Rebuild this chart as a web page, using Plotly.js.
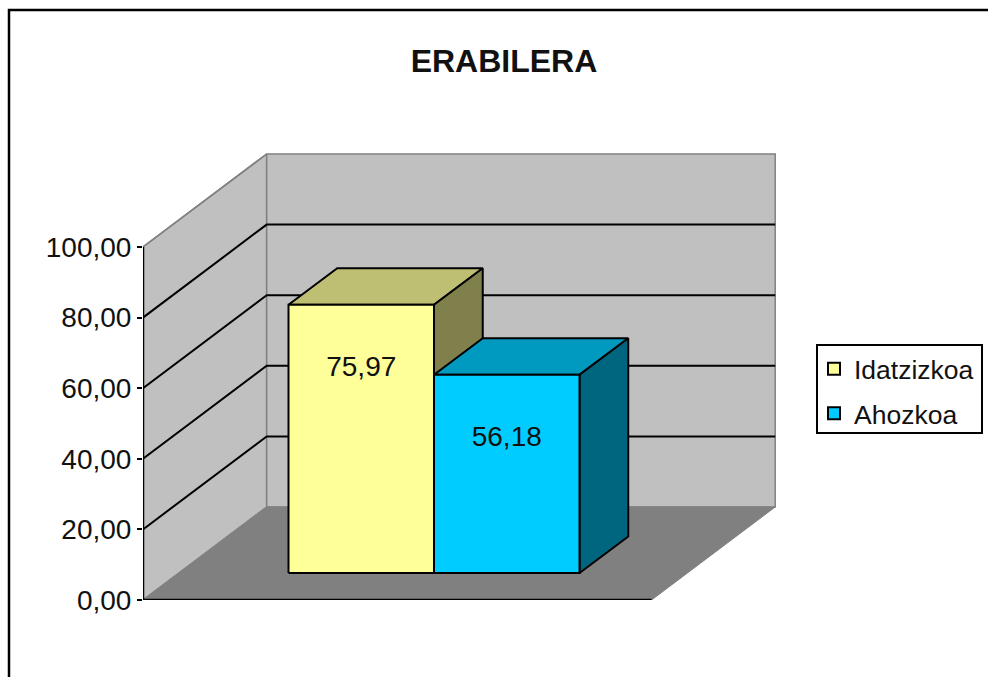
<!DOCTYPE html>
<html>
<head>
<meta charset="utf-8">
<script src="https://cdn.plot.ly/plotly-3.0.1.min.js"></script>
<style>html,body{margin:0;padding:0;background:#fff;overflow:hidden}</style>
</head>
<body>
<div id="chart" style="width:988px;height:677px"></div>
<script>
const seriesNames = ["Idatzizkoa", "Ahozkoa"];
const seriesValues = [75.97, 56.18];
const tickValues = [0, 20, 40, 60, 80, 100];
const frontColors = ["#FFFF99", "#00CCFF"];
const topColors = ["#BFBF73", "#0099BF"];
const sideColors = ["#80804D", "#006680"];
const barStarts = [1, 2];

// oblique projection of the box, in axis units
const floorWidth = 3.495, wallX = 0.85, wallY = 26.35;
const barBase = 7.65, barDepthX = 0.335, barDepthY = 10.34, labelDrop = 18.3;

const FONT = "Liberation Sans, Arial, sans-serif";
const fmt = v => v.toFixed(2).replace(".", ",");

function poly(pts, fill, line, width) {
  return {type: "scatter", mode: "lines", x: pts.map(p => p[0]).concat(pts[0][0]),
    y: pts.map(p => p[1]).concat(pts[0][1]), fill: "toself", fillcolor: fill,
    line: {color: line, width: width}, showlegend: false, hoverinfo: "skip"};
}
function seg(pts, color, width) {
  return {type: "scatter", mode: "lines", x: pts.map(p => p[0]), y: pts.map(p => p[1]),
    line: {color: color, width: width}, showlegend: false, hoverinfo: "skip"};
}

const traces = [];
// series bars carry the legend
seriesNames.forEach((n, i) => traces.push({type: "bar", name: n, legendgroup: n,
  x: [barStarts[i] + 0.5], y: [seriesValues[i]], base: [barBase], width: [1],
  marker: {color: frontColors[i], line: {color: "#000", width: 2}}, hoverinfo: "skip"}));

// walls and floor
const maxTick = tickValues[tickValues.length - 1];
traces.push(poly([[0, 0], [wallX, wallY], [wallX, maxTick + wallY], [0, maxTick]], "#C0C0C0", "#808080", 1.5));
traces.push(poly([[wallX, wallY], [wallX + floorWidth, wallY], [wallX + floorWidth, maxTick + wallY], [wallX, maxTick + wallY]], "#C0C0C0", "#808080", 1.5));
traces.push(poly([[0, 0], [floorWidth, 0], [floorWidth + wallX, wallY], [wallX, wallY]], "#808080", "#808080", 1));

// gridlines
tickValues.slice(1, -1).forEach(v => traces.push(seg([[0, v], [wallX, v + wallY], [wallX + floorWidth, v + wallY]], "#000", 2)));
traces.push(seg([[0, maxTick], [wallX, maxTick + wallY]], "#808080", 1.5));

// axis lines
traces.push(seg([[0, maxTick], [0, 0], [floorWidth, 0]], "#000", 2.5));

// bar faces
seriesValues.forEach((v, i) => {
  const a = barStarts[i], b = a + 1, lo = barBase, hi = barBase + v;
  traces.push(poly([[a, hi], [b, hi], [b + barDepthX, hi + barDepthY], [a + barDepthX, hi + barDepthY]], topColors[i], "#000", 2));
  traces.push(poly([[b, lo], [b + barDepthX, lo + barDepthY], [b + barDepthX, hi + barDepthY], [b, hi]], sideColors[i], "#000", 2));
  traces.push(poly([[a, lo], [b, lo], [b, hi], [a, hi]], frontColors[i], "#000", 2));
});

// data labels
traces.push({type: "scatter", mode: "text",
  x: barStarts.map(s => s + 0.5), y: seriesValues.map(v => barBase + v - labelDrop),
  text: seriesValues.map(fmt), textposition: "middle center",
  textfont: {family: FONT, size: 28, color: "#111"}, showlegend: false, hoverinfo: "skip", cliponaxis: false});

const px = v => (v - 143) / 633, py = v => (600 - v) / 447;
const layout = {
  width: 988, height: 677, autosize: false,
  margin: {l: 143, r: 212, t: 153, b: 77, pad: 0},
  paper_bgcolor: "#fff", plot_bgcolor: "rgba(0,0,0,0)",
  title: {text: "<b>ERABILERA</b>", x: 504 / 988, xref: "container", xanchor: "center",
    y: 1 - 61 / 677, yref: "container", yanchor: "middle", font: {family: FONT, size: 32, color: "#111"}},
  xaxis: {range: [0, 633 / 145.5], visible: false, fixedrange: true},
  yaxis: {range: [0, 447 / 3.53], tickmode: "array", tickvals: tickValues, ticktext: tickValues.map(fmt),
    showgrid: false, zeroline: false, showline: false, ticks: "outside", ticklen: 5, tickwidth: 2, tickcolor: "#000",
    tickfont: {family: FONT, size: 28, color: "#111"}, fixedrange: true},
  barmode: "overlay",
  showlegend: true,
  legend: {xref: "container", yref: "container", x: 814 / 988, y: 1 - 345 / 677, xanchor: "left", yanchor: "top",
    bgcolor: "rgba(0,0,0,0)", borderwidth: 0, traceorder: "grouped", tracegroupgap: 7,
    font: {family: FONT, size: 26.5, color: "#111"}, itemclick: false, itemdoubleclick: false},
  shapes: [
    {type: "path", xref: "paper", yref: "paper",
     path: `M ${px(9)} ${py(690)} L ${px(9)} ${py(10)} L ${px(1000)} ${py(10)}`,
     line: {color: "#000", width: 2.5}, layer: "above"},
    {type: "rect", xref: "paper", yref: "paper", x0: px(817), x1: px(982), y0: py(345), y1: py(433),
     line: {color: "#000", width: 2}, fillcolor: "#fff", layer: "below"}
  ]
};
Plotly.newPlot("chart", traces, layout, {displayModeBar: false, responsive: false});
</script>
</body>
</html>
